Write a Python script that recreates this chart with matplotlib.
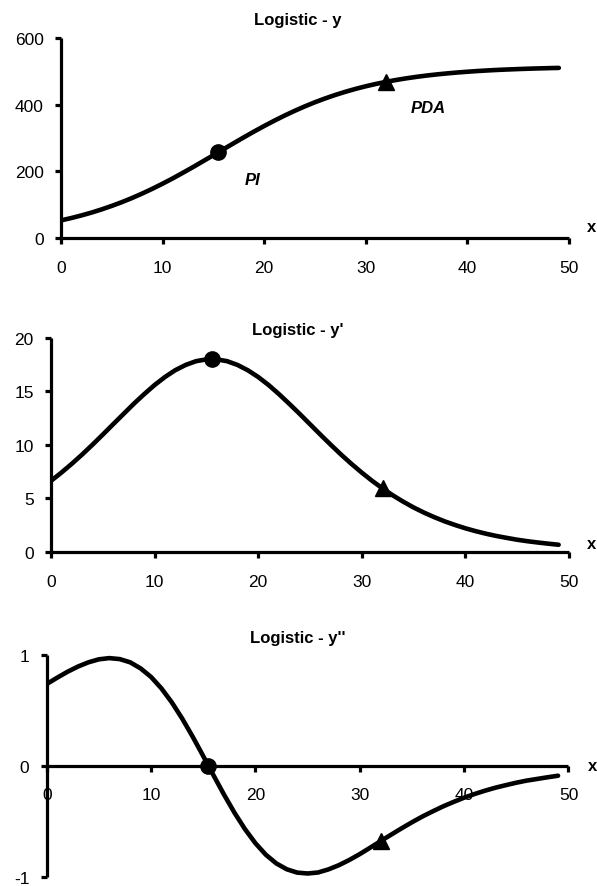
import matplotlib
matplotlib.use("Agg")
import matplotlib.pyplot as plt

plt.rcParams['font.family'] = ['Liberation Sans', 'DejaVu Sans']

# ---- data ----
x_vals = list(range(0, 50))

y_vals = [52.8, 59.8, 67.6, 76.2, 85.8, 96.3, 107.7, 120.1, 133.5, 147.8,
          163.0, 178.9, 195.7, 212.9, 230.6, 248.5, 266.5, 284.4, 302.1, 319.4,
          336.0, 352.0, 367.2, 381.5, 394.9, 407.3, 418.7, 429.2, 438.7, 447.4,
          455.2, 462.2, 468.5, 474.1, 479.1, 483.5, 487.4, 490.8, 493.8, 496.5,
          498.8, 500.9, 502.7, 504.3, 505.6, 506.8, 507.9, 508.8, 509.6, 510.3]

dy_vals = [6.63, 7.40, 8.22, 9.09, 10.01, 10.96, 11.93, 12.89, 13.85, 14.75,
           15.60, 16.35, 16.99, 17.48, 17.83, 18.00, 18.00, 17.83, 17.48, 16.98,
           16.35, 15.60, 14.75, 13.84, 12.90, 11.93, 10.96, 10.01, 9.09, 8.22,
           7.40, 6.63, 5.92, 5.27, 4.68, 4.14, 3.66, 3.23, 2.84, 2.50,
           2.19, 1.92, 1.68, 1.47, 1.29, 1.12, 0.98, 0.86, 0.75, 0.65]

d2y_vals = [0.738, 0.795, 0.849, 0.896, 0.934, 0.961, 0.972, 0.963, 0.934, 0.879,
            0.802, 0.698, 0.571, 0.424, 0.261, 0.088, -0.088, -0.261, -0.424, -0.571,
            -0.698, -0.802, -0.880, -0.933, -0.963, -0.971, -0.962, -0.934, -0.896, -0.849,
            -0.796, -0.738, -0.679, -0.621, -0.564, -0.509, -0.457, -0.410, -0.365, -0.325,
            -0.287, -0.254, -0.224, -0.197, -0.174, -0.152, -0.133, -0.118, -0.103, -0.089]

# special points: inflection (PI) and PDA
pi_x = 15.5
pi_vals = [257.5, 18.0, 0.0]
pda_x = 32.0
pda_vals = [468.5, 5.92, -0.679]

titles = ["Logistic - y", "Logistic - y'", "Logistic - y''"]
x_ticks = [0, 10, 20, 30, 40, 50]
y_ticks_list = [[0, 200, 400, 600], [0, 5, 10, 15, 20], [-1, 0, 1]]
y_lims = [(0, 600), (0, 20), (-1, 1)]
label_pi = "PI"
label_pda = "PDA"
axis_name = "x"

# ---- figure ----
W, H = 597, 887
fig = plt.figure(figsize=(W / 100, H / 100), dpi=100)

def px_axes(left, right, top, bottom):
    return fig.add_axes([left / W, 1 - bottom / H, (right - left) / W, (bottom - top) / H])

boxes = [(61, 569, 39, 239), (51, 569, 339, 552.7), (46.7, 568.5, 656, 877.7)]
title_y = [20, 331, 639]
series = [y_vals, dy_vals, d2y_vals]

LW = 3.3
SW = 2.3
FS = 12.5
TFS = 12

for i in range(3):
    ax = px_axes(*boxes[i])
    ax.plot(x_vals, series[i], color='black', lw=LW, solid_capstyle='round', zorder=3)
    ax.plot([pi_x], [pi_vals[i]], marker='o', ms=11, color='black', zorder=4, clip_on=False)
    ax.plot([pda_x], [pda_vals[i]], marker='^', ms=11, color='black',
            zorder=4, clip_on=False)
    ax.set_xlim(0, 50)
    ax.set_ylim(*y_lims[i])
    ax.set_xticks(x_ticks)
    ax.set_yticks(y_ticks_list[i])
    ax.set_xticklabels([str(t) for t in x_ticks])
    ax.set_yticklabels([str(t) for t in y_ticks_list[i]])
    for s in ['top', 'right']:
        ax.spines[s].set_visible(False)
    for s in ['left', 'bottom']:
        ax.spines[s].set_linewidth(SW)
        ax.spines[s].set_capstyle('butt')
    ax.tick_params(axis='both', direction='out', length=4.5, width=SW, labelsize=FS,
                   colors='black')
    ax.tick_params(axis='x', pad=11.5)
    ax.tick_params(axis='y', pad=8)
    ax.patch.set_alpha(0)
    if i == 2:
        ax.spines['bottom'].set_position(('data', 0))
        ax.spines['bottom'].set_zorder(2)
        ax.tick_params(axis='x', pad=11)
        ax.annotate(axis_name, xy=(50, 0), xycoords='data', xytext=(17, 0),
                    textcoords='offset points', ha='center', va='center',
                    fontsize=TFS, fontweight='bold')
    else:
        up = 8.5 if i == 0 else 6
        ax.annotate(axis_name, xy=(1, 0), xycoords='axes fraction', xytext=(16.5, up),
                    textcoords='offset points', ha='center', va='center',
                    fontsize=TFS, fontweight='bold')
    fig.text(298 / W, 1 - title_y[i] / H, titles[i], ha='center', va='center',
             fontsize=TFS, fontweight='bold')
    if i == 0:
        ax.text(18.9, 176, label_pi, ha='center', va='center', fontsize=TFS,
                fontweight='bold', fontstyle='italic')
        ax.text(36.1, 391, label_pda, ha='center', va='center', fontsize=TFS,
                fontweight='bold', fontstyle='italic')

fig.savefig("out.png", dpi=100, facecolor='white')
